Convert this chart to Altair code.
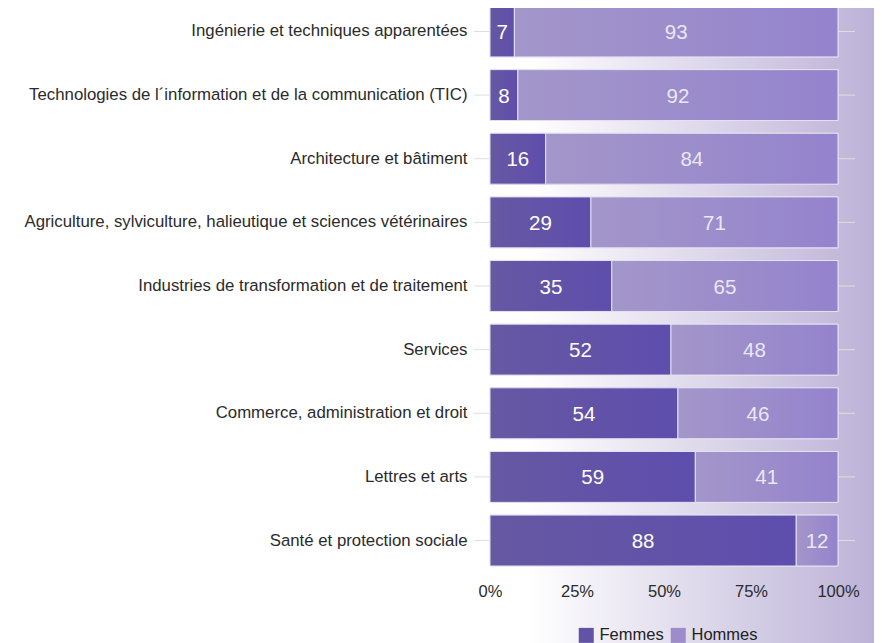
import altair as alt
import pandas as pd

categories = [
    "Ingénierie et techniques apparentées",
    "Technologies de l´information et de la communication (TIC)",
    "Architecture et bâtiment",
    "Agriculture, sylviculture, halieutique et sciences vétérinaires",
    "Industries de transformation et de traitement",
    "Services",
    "Commerce, administration et droit",
    "Lettres et arts",
    "Santé et protection sociale",
]
femmes = [7, 8, 16, 29, 35, 52, 54, 59, 88]
hommes = [93, 92, 84, 71, 65, 48, 46, 41, 12]
series = ["Femmes", "Hommes"]
x_ticks = [0, 25, 50, 75, 100]

rows = []
for c, f, h in zip(categories, femmes, hommes):
    rows.append({"cat": c, "sexe": "Femmes", "val": f, "ord": 0})
    rows.append({"cat": c, "sexe": "Hommes", "val": h, "ord": 1})
df = pd.DataFrame(rows)
cats_df = pd.DataFrame({"cat": categories})

W = 348
H = 560
PAD_L, PAD_T, PAD_R, PAD_B = 482, -2, 36, 86
FONT = "Liberation Sans"

y_enc = alt.Y("cat:N", sort=categories, title=None,
              scale=alt.Scale(paddingInner=0.2, paddingOuter=0),
              axis=alt.Axis(ticks=False, domain=False, grid=False, zindex=1,
                            labelPadding=23, labelFontSize=16.8,
                            labelColor="#2b2b2b", labelFont=FONT, labelLimit=600))
x_enc = alt.X("val:Q", stack="zero", title=None,
              scale=alt.Scale(domain=[0, 100], nice=False),
              axis=alt.Axis(values=x_ticks, labelExpr="datum.value + '%'",
                            ticks=False, domain=False, grid=False, zindex=1,
                            labelPadding=17, labelFontSize=16.5, labelFlush=False,
                            labelColor="#2b2b2b", labelFont=FONT))

bg = alt.Chart(cats_df).mark_rect(
    fill=alt.Gradient(
        gradient="linear", x1=0, x2=1, y1=0, y2=0,
        stops=[alt.GradientStop(offset=0, color="#ffffff"),
               alt.GradientStop(offset=0.6, color="#ffffff"),
               alt.GradientStop(offset=1, color="#bcb2d7")],
    )
).encode(
    x=alt.value(-PAD_L), x2=alt.value(W + PAD_R),
    y=alt.value(-PAD_T - 10), y2=alt.value(H + PAD_B + 10),
)

grid = alt.Chart(cats_df).mark_rule(color="#dedede", strokeWidth=1).encode(
    y=alt.Y("cat:N", sort=categories),
    x=alt.value(-16), x2=alt.value(W + 17),
)

base = alt.Chart(df)

bars = base.mark_bar(stroke="#e6e2f2", strokeWidth=1).encode(
    y=y_enc,
    x=x_enc,
    order=alt.Order("ord:Q"),
    color=alt.Color("sexe:N", sort=series, title=None,
                    scale=alt.Scale(domain=series, range=["#6253a6", "#9c8cca"]),
                    legend=alt.Legend(orient="none", direction="horizontal",
                                      legendX=88, legendY=621, zindex=1,
                                      symbolType="square", symbolSize=225,
                                      symbolStrokeWidth=0, symbolOpacity=1,
                                      labelFontSize=16.5, labelFont=FONT,
                                      labelColor="#222222", columnPadding=6,
                                      labelOffset=5)),
)

gradF = alt.Gradient(gradient="linear", x1=0, x2=1, y1=0, y2=0,
                     stops=[alt.GradientStop(offset=0, color="#6658a2"),
                            alt.GradientStop(offset=1, color="#5e4ead")])
gradH = alt.Gradient(gradient="linear", x1=0, x2=1, y1=0, y2=0,
                     stops=[alt.GradientStop(offset=0, color="#a396c9"),
                            alt.GradientStop(offset=1, color="#9483cd")])

bars_grad = base.mark_bar(stroke="#e6e2f2", strokeWidth=1).encode(
    y=alt.Y("cat:N", sort=categories),
    x=alt.X("val:Q", stack="zero"),
    order=alt.Order("ord:Q"),
    fill=alt.condition(alt.datum.sexe == "Femmes", alt.value(gradF), alt.value(gradH)),
)

labels = base.transform_stack(
    stack="val", groupby=["cat"], as_=["x0", "x1"], sort=[alt.SortField("ord")]
).transform_calculate(mid="(datum.x0 + datum.x1) / 2").mark_text(
    fontSize=20.5, font=FONT, baseline="middle", align="center", dy=1.5
).encode(
    y=alt.Y("cat:N", sort=categories),
    x=alt.X("mid:Q"),
    text=alt.Text("val:Q"),
    color=alt.condition(alt.datum.sexe == "Femmes", alt.value("#ffffff"), alt.value("#ebe7f6")),
)

chart = alt.layer(bg, grid, bars, bars_grad, labels).properties(
    width=W, height=H,
    autosize=alt.AutoSizeParams(type="none"),
    padding={"left": PAD_L, "top": PAD_T, "right": PAD_R, "bottom": PAD_B},
    background="transparent",
).configure_view(stroke=None)

chart.save("out.html", embed_options={"renderer": "svg", "actions": False})
